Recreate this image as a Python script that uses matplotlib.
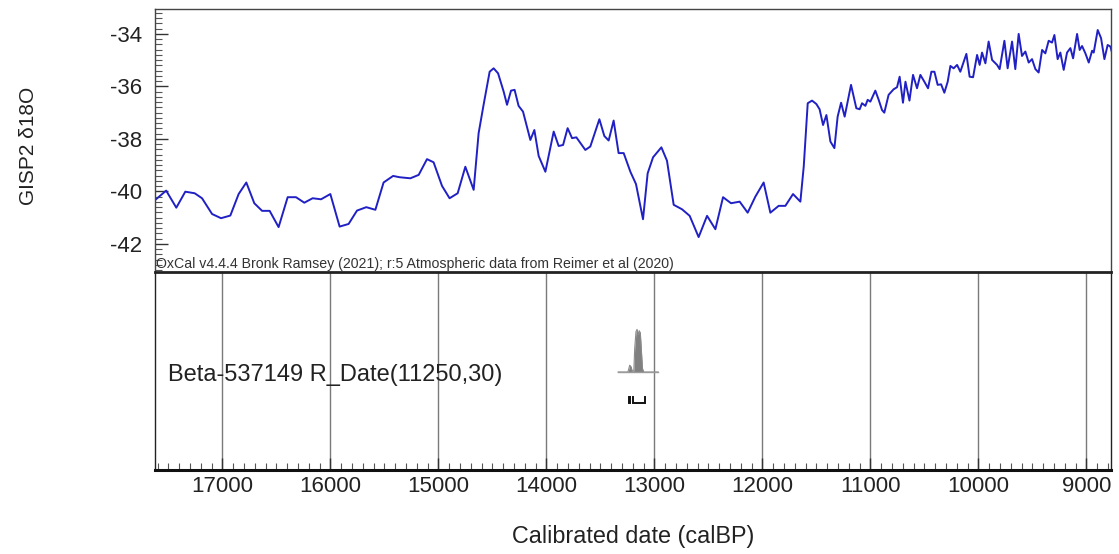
import matplotlib
matplotlib.use("Agg")
import matplotlib.pyplot as plt
from matplotlib.ticker import MultipleLocator

plt.rcParams['font.family'] = ['Liberation Sans', 'DejaVu Sans']

# ---- GISP2 d18O record (calBP, permil) ----
cal_bp = [17620, 17520, 17426, 17343, 17256, 17188, 17095, 17012, 16926, 16849,
          16778, 16704, 16632, 16562, 16479, 16395, 16318, 16241, 16164, 16086,
          16000, 15914, 15831, 15753, 15667, 15583, 15507, 15419, 15358, 15259,
          15182, 15105, 15044, 14966, 14896, 14821, 14750, 14673, 14627, 14581,
          14525, 14488, 14447, 14395, 14364, 14327, 14294, 14257, 14216, 14148,
          14111, 14071, 14009, 13932, 13886, 13845, 13803, 13762, 13722, 13639,
          13593, 13509, 13463, 13423, 13377, 13331, 13284, 13222, 13170, 13105,
          13062, 13012, 12935, 12883, 12821, 12744, 12673, 12590, 12512, 12435,
          12364, 12290, 12210, 12136, 12065, 11988, 11926, 11849, 11787, 11716,
          11648, 11617, 11580, 11540, 11500, 11470, 11438, 11407, 11370, 11333,
          11303, 11271, 11238, 11179, 11130, 11099, 11077, 11046, 11025, 11000,
          10954, 10923, 10892, 10871, 10831, 10785, 10753, 10729, 10698, 10675,
          10638, 10605, 10568, 10537, 10500, 10466, 10435, 10407, 10377, 10345,
          10315, 10284, 10259, 10229, 10197, 10167, 10111, 10081, 10049, 10012,
          9988, 9966, 9935, 9905, 9873, 9827, 9803, 9759, 9729, 9688,
          9658, 9627, 9596, 9565, 9534, 9503, 9472, 9442, 9410, 9380,
          9349, 9318, 9296, 9266, 9241, 9210, 9179, 9148, 9123, 9086,
          9062, 9040, 9009, 8978, 8947, 8932, 8895, 8864, 8833, 8803,
          8778, 8762]
d18o = [-40.32, -39.97, -40.62, -40.01, -40.07, -40.26, -40.86, -41.02, -40.92, -40.10,
        -39.66, -40.45, -40.74, -40.74, -41.36, -40.22, -40.22, -40.43, -40.26, -40.30,
        -40.10, -41.34, -41.24, -40.73, -40.60, -40.70, -39.66, -39.41, -39.46, -39.50,
        -39.37, -38.77, -38.89, -39.79, -40.26, -40.07, -39.06, -39.94, -37.78, -36.70,
        -35.44, -35.31, -35.50, -36.20, -36.70, -36.16, -36.13, -36.74, -36.96, -38.04,
        -37.66, -38.65, -39.25, -37.72, -38.27, -38.23, -37.59, -37.97, -37.94, -38.42,
        -38.29, -37.25, -37.89, -38.06, -37.30, -38.54, -38.54, -39.25, -39.72, -41.06,
        -39.31, -38.70, -38.32, -38.83, -40.51, -40.68, -40.93, -41.74, -40.93, -41.44,
        -40.22, -40.45, -40.39, -40.81, -40.20, -39.66, -40.81, -40.55, -40.55, -40.10,
        -40.39, -39.06, -36.64, -36.54, -36.67, -36.87, -37.47, -37.09, -38.10, -38.35,
        -37.15, -36.62, -37.15, -35.94, -36.83, -36.87, -36.64, -36.74, -36.51, -36.58,
        -36.16, -36.51, -36.90, -37.00, -36.32, -36.11, -36.03, -35.63, -36.62, -35.82,
        -36.54, -35.56, -36.07, -35.56, -35.82, -36.07, -35.44, -35.44, -35.94, -35.92,
        -36.24, -35.82, -35.22, -35.31, -35.18, -35.44, -34.76, -35.63, -35.65, -34.80,
        -35.18, -34.71, -35.12, -34.29, -34.99, -35.18, -35.34, -34.26, -35.31, -34.29,
        -35.34, -34.00, -34.84, -34.67, -35.09, -34.96, -35.34, -35.47, -34.61, -34.74,
        -34.26, -34.33, -34.04, -34.96, -34.71, -35.37, -34.71, -34.54, -34.93, -34.00,
        -34.61, -34.46, -34.74, -35.09, -34.64, -34.71, -33.85, -34.16, -34.96, -34.42,
        -34.48, -34.72]

# ---- calibrated date distribution ----
sample_label = "Beta-537149 R_Date(11250,30)"
dist_bp = [13335, 13245, 13238, 13228, 13215, 13205, 13190, 13182, 13170, 13160,
           13150, 13140, 13130, 13120, 13110, 13098, 12965]
dist_p = [0, 0, 0.06, 0.16, 0.12, 0.02, 0.03, 0.55, 0.95, 1.0,
          0.88, 0.97, 0.92, 0.5, 0.08, 0, 0]
# highest-probability ranges (calBP, from, to)
ranges = [(13238, 13228), (13195, 13082)]

credit = "OxCal v4.4.4 Bronk Ramsey (2021); r:5 Atmospheric data from Reimer et al (2020)"
x_ticks = [17000, 16000, 15000, 14000, 13000, 12000, 11000, 10000, 9000]
y_ticks = [-34, -36, -38, -40, -42]
x_limits = (17628, 8772)
y_limits = (-43.07, -33.05)

W, H = 1119, 554
fig = plt.figure(figsize=(W / 100, H / 100), dpi=100)
left = 154.5 / W
right = 1111 / W
ax1 = fig.add_axes([left, 1 - 272 / H, right - left, (272 - 9) / H])
ax2 = fig.add_axes([left, 1 - 470 / H, right - left, (470 - 272) / H], sharex=ax1)

txt_col = '#222222'

# upper panel
ax1.plot(cal_bp, d18o, color='#2020c4', lw=1.4, solid_joinstyle='round')
ax1.set_xlim(*x_limits)
ax1.set_ylim(*y_limits)
ax1.set_yticks(y_ticks)
ax1.set_yticklabels([str(v) for v in y_ticks])
ax1.yaxis.set_minor_locator(MultipleLocator(0.2))
ax1.tick_params(axis='y', which='major', direction='in', length=9, width=1.0,
                labelsize=16, pad=9, colors='#333333', labelcolor=txt_col)
ax1.tick_params(axis='y', which='minor', direction='in', length=5, width=0.8,
                colors='#555555')
ax1.tick_params(axis='x', which='both', bottom=False, labelbottom=False)
for s in ['top', 'right', 'left']:
    ax1.spines[s].set_color('#444444')
    ax1.spines[s].set_linewidth(1.0)
ax1.spines['bottom'].set_visible(False)
ax1.text(0.002, 0.004, credit, transform=ax1.transAxes, fontsize=10.2,
         color='#333333', ha='left', va='bottom')

# lower panel
ax2.set_ylim(0, 1)
ax2.set_yticks([])
for xt in x_ticks:
    ax2.axvline(xt, color='#7a7a7a', lw=1.0, zorder=0)
base, scale = 0.495, 0.215
ax2.fill_between(dist_bp, base, [base + scale * p for p in dist_p],
                 color='#808080', lw=0, zorder=2)
ax2.plot(dist_bp, [base + scale * p for p in dist_p], color='#8a8a8a', lw=0.8, zorder=2)
ax2.plot([dist_bp[0], dist_bp[-1]], [base, base], color='#9a9a9a', lw=1.0, zorder=2)
yb, yt = 0.338, 0.369
for a, b in ranges:
    ax2.plot([a, a, b, b], [yt, yb, yb, yt], color='#111111', lw=1.4,
             solid_joinstyle='miter', zorder=3)
ax2.text(0.0146, 0.48, sample_label, transform=ax2.transAxes, fontsize=17,
         color=txt_col, ha='left', va='center')

ax2.set_xticks(x_ticks)
ax2.set_xticklabels([str(v) for v in x_ticks])
ax2.xaxis.set_minor_locator(MultipleLocator(100))
ax2.tick_params(axis='x', which='major', direction='in', length=9, width=1.0,
                labelsize=16, pad=4, colors='#333333', labelcolor=txt_col)
ax2.tick_params(axis='x', which='minor', direction='in', length=5, width=0.8,
                colors='#555555')
for s in ['top', 'left', 'right']:
    ax2.spines[s].set_color('#222222')
    ax2.spines[s].set_linewidth(1.0)
ax2.spines['top'].set_linewidth(2.0)
ax2.spines['bottom'].set_color('#111111')
ax2.spines['bottom'].set_linewidth(2.2)
ax2.set_xlim(*x_limits)

fig.text(28 / W, 1 - 146 / H, "GISP2 δ18O", rotation=90, fontsize=15,
         color=txt_col, ha='center', va='center')
fig.text((left + right) / 2, 1 - 537 / H, "Calibrated date (calBP)", fontsize=16.8,
         color=txt_col, ha='center', va='center')

fig.savefig("out.png", dpi=100, facecolor='white')
